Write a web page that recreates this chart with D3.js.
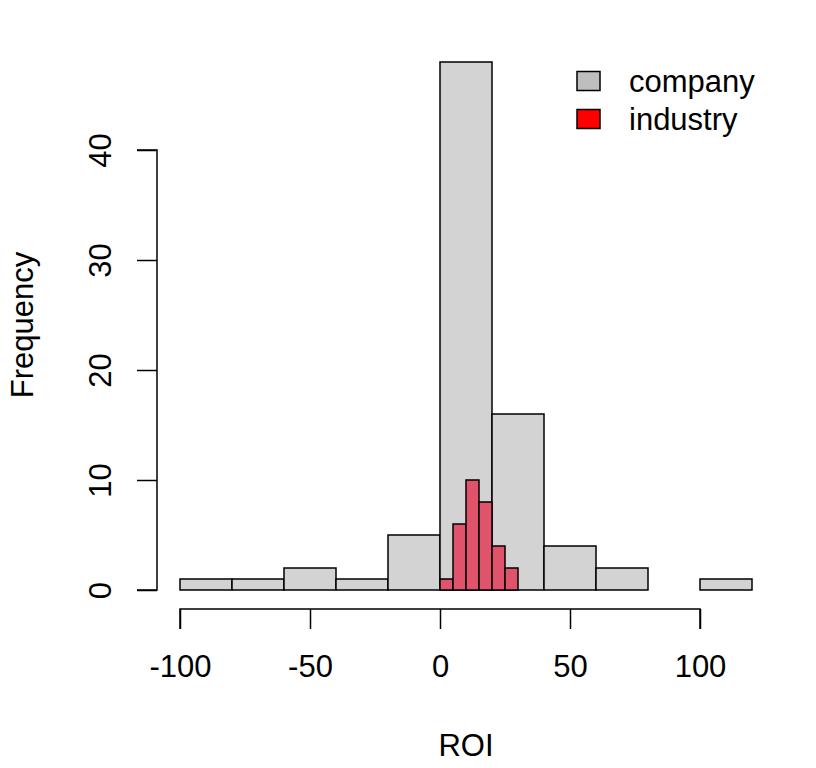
<!DOCTYPE html>
<html><head><meta charset="utf-8">
<script src="https://cdn.jsdelivr.net/npm/d3@7"></script>
<style>body{margin:0;background:#fff}svg{display:block}text{font-family:"Liberation Sans",Arial,sans-serif}</style>
</head><body>
<script>
const companyBreaks = [-100,-80,-60,-40,-20,0,20,40,60,80,100,120];
const companyCounts = [1,1,2,1,5,48,16,4,2,0,1];
const industryBreaks = [0,5,10,15,20,25,30];
const industryCounts = [1,6,10,8,4,2];
const xTicks = [-100,-50,0,50,100];
const yTicks = [0,10,20,30,40];
const legendLabels = ["company","industry"];
const legendColors = ["#BEBEBE","#FF0000"];

const W=816,H=768,fs=31;
const svg=d3.select("body").append("svg").attr("width",W).attr("height",H);
const x=d3.scaleLinear().domain([-100,100]).range([180,700]);
const y=d3.scaleLinear().domain([0,40]).range([590,150]);

function bars(breaks,counts,fill){
  svg.append("g").selectAll("rect").data(counts).join("rect")
    .attr("x",(d,i)=>x(breaks[i])).attr("width",(d,i)=>x(breaks[i+1])-x(breaks[i]))
    .attr("y",d=>y(d)).attr("height",d=>y(0)-y(d))
    .attr("fill",fill).attr("stroke","#000").attr("stroke-width",1.5);
}
bars(companyBreaks,companyCounts,"#D3D3D3");
bars(industryBreaks,industryCounts,"#DF536B");

const xa=svg.append("g").attr("transform","translate(0,609)")
  .call(d3.axisBottom(x).tickValues(xTicks).tickSize(20).tickPadding(26).tickFormat(d3.format("d")));
xa.select(".domain").attr("d",`M${x(-100)},20V0H${x(100)}V20`);
const ya=svg.append("g").attr("transform","translate(157,0)")
  .call(d3.axisLeft(y).tickValues(yTicks).tickSize(20).tickFormat(d3.format("d")));
ya.select(".domain").attr("d",`M-20,${y(0)}H0V${y(40)}H-20`);
[xa,ya].forEach(a=>{a.selectAll("path,line").attr("stroke","#000").attr("stroke-width",1.5);
  a.selectAll("text").attr("font-size",fs).attr("fill","#000").style("font-family","Liberation Sans, Arial, sans-serif");});
xa.selectAll("text").text(d=>d3.format("d")(d).replace("−","-"));
ya.selectAll("text").attr("x",null).attr("y",0).attr("dy","0.36em")
  .attr("text-anchor","middle").attr("transform","translate(-57,0) rotate(-90)");

svg.append("text").attr("x",466).attr("y",756).attr("text-anchor","middle").attr("font-size",fs).text("ROI");
svg.append("text").attr("transform","translate(33,325) rotate(-90)").attr("text-anchor","middle").attr("font-size",fs).text("Frequency");

const lg=svg.append("g");
legendLabels.forEach((l,i)=>{
  const cy=81+i*38;
  lg.append("rect").attr("x",577).attr("y",cy-9.5).attr("width",23).attr("height",19)
    .attr("fill",legendColors[i]).attr("stroke","#000").attr("stroke-width",1.5);
  lg.append("text").attr("x",629).attr("y",cy).attr("dy","0.36em").attr("font-size",fs).text(l);
});
</script>
</body></html>
